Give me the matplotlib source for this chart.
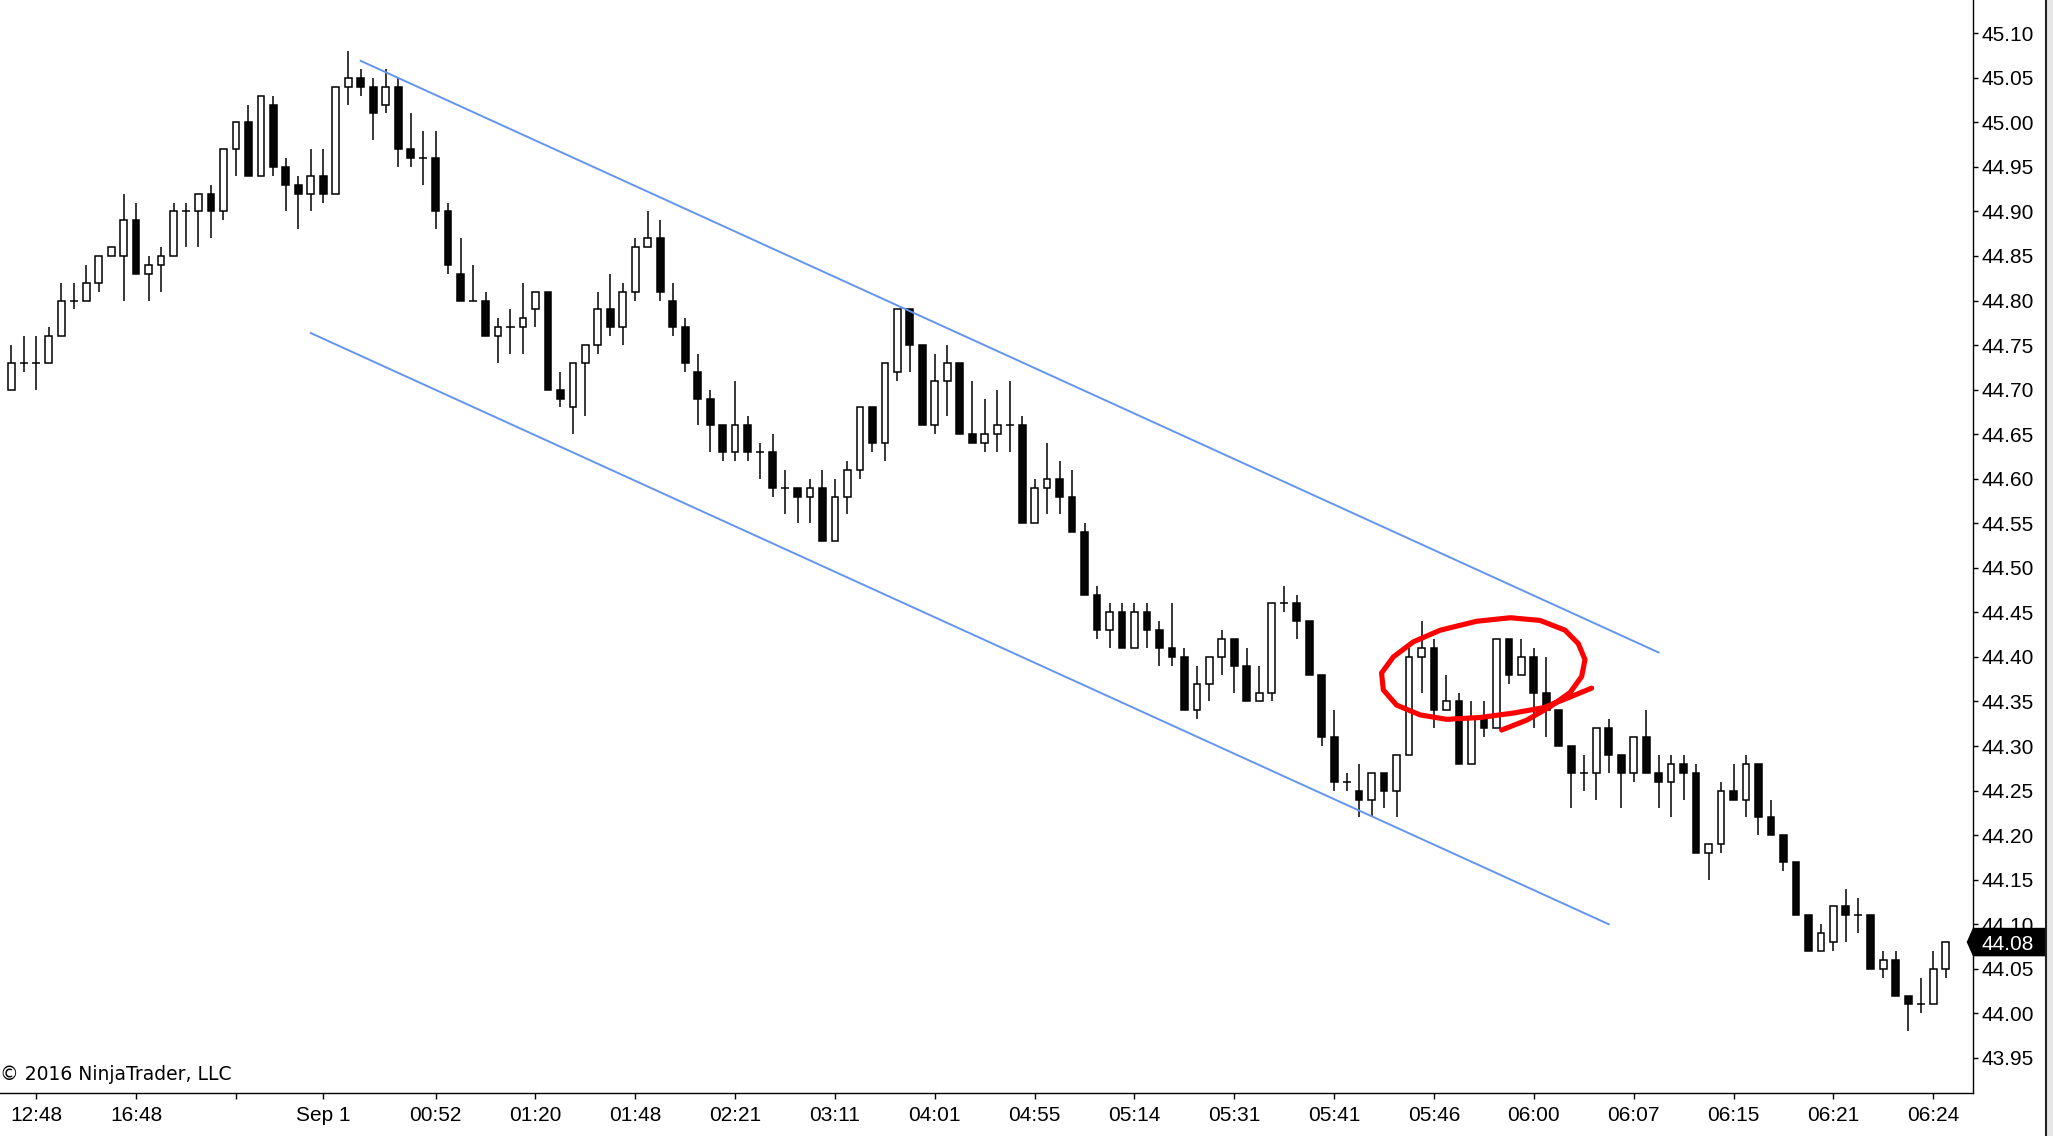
import matplotlib
matplotlib.use("Agg")
import matplotlib.pyplot as plt
import numpy as np
from matplotlib.patches import Polygon, Rectangle
from matplotlib.lines import Line2D
from matplotlib.transforms import blended_transform_factory

plt.rcParams['font.family'] = ['Liberation Sans', 'DejaVu Sans']

# OHLC, one bar per entry
opens = [44.70, 44.73, 44.73, 44.73, 44.76, 44.80, 44.80, 44.82, 44.85, 44.85,
         44.89, 44.83, 44.84, 44.85, 44.90, 44.90, 44.92, 44.90, 44.97, 45.00,
         44.94, 45.02, 44.95, 44.93, 44.92, 44.94, 44.92, 45.04, 45.05, 45.04,
         45.02, 45.04, 44.97, 44.96, 44.96, 44.90, 44.83, 44.80, 44.80, 44.76,
         44.77, 44.77, 44.79, 44.81, 44.70, 44.68, 44.73, 44.75, 44.79, 44.77,
         44.81, 44.86, 44.87, 44.80, 44.77, 44.72, 44.69, 44.66, 44.63, 44.66,
         44.63, 44.63, 44.59, 44.59, 44.58, 44.59, 44.53, 44.58, 44.61, 44.68,
         44.64, 44.72, 44.79, 44.75, 44.66, 44.71, 44.73, 44.65, 44.64, 44.65,
         44.66, 44.66, 44.55, 44.59, 44.60, 44.58, 44.54, 44.47, 44.43, 44.45,
         44.41, 44.45, 44.43, 44.41, 44.40, 44.34, 44.37, 44.40, 44.42, 44.39,
         44.35, 44.36, 44.46, 44.46, 44.44, 44.38, 44.31, 44.26, 44.25, 44.24,
         44.27, 44.25, 44.29, 44.40, 44.41, 44.34, 44.35, 44.28, 44.33, 44.32,
         44.42, 44.38, 44.40, 44.36, 44.34, 44.30, 44.27, 44.27, 44.32, 44.29,
         44.27, 44.31, 44.27, 44.26, 44.28, 44.27, 44.18, 44.19, 44.25, 44.24,
         44.28, 44.22, 44.20, 44.17, 44.11, 44.07, 44.08, 44.12, 44.11, 44.11,
         44.05, 44.06, 44.02, 44.01, 44.01, 44.05]
highs = [44.75, 44.76, 44.76, 44.77, 44.82, 44.82, 44.84, 44.85, 44.86, 44.92,
         44.91, 44.85, 44.86, 44.91, 44.91, 44.92, 44.93, 44.97, 45.00, 45.02,
         45.03, 45.03, 44.96, 44.94, 44.97, 44.97, 45.04, 45.08, 45.06, 45.05,
         45.06, 45.05, 45.01, 44.99, 44.99, 44.91, 44.87, 44.84, 44.81, 44.78,
         44.79, 44.82, 44.81, 44.81, 44.72, 44.73, 44.75, 44.81, 44.83, 44.82,
         44.87, 44.90, 44.89, 44.82, 44.78, 44.74, 44.70, 44.66, 44.71, 44.67,
         44.64, 44.65, 44.61, 44.59, 44.60, 44.61, 44.60, 44.62, 44.68, 44.68,
         44.73, 44.79, 44.79, 44.75, 44.74, 44.75, 44.73, 44.71, 44.69, 44.70,
         44.71, 44.67, 44.60, 44.64, 44.62, 44.61, 44.55, 44.48, 44.46, 44.46,
         44.46, 44.46, 44.44, 44.46, 44.41, 44.39, 44.40, 44.43, 44.42, 44.41,
         44.39, 44.46, 44.48, 44.47, 44.44, 44.38, 44.34, 44.27, 44.28, 44.27,
         44.27, 44.29, 44.41, 44.44, 44.42, 44.38, 44.36, 44.35, 44.35, 44.42,
         44.42, 44.42, 44.41, 44.40, 44.34, 44.30, 44.29, 44.32, 44.33, 44.29,
         44.31, 44.34, 44.29, 44.29, 44.29, 44.28, 44.19, 44.26, 44.28, 44.29,
         44.28, 44.24, 44.20, 44.17, 44.11, 44.10, 44.12, 44.14, 44.13, 44.11,
         44.07, 44.07, 44.02, 44.04, 44.07, 44.08]
lows = [44.70, 44.72, 44.70, 44.73, 44.76, 44.79, 44.80, 44.81, 44.85, 44.80,
        44.83, 44.80, 44.81, 44.85, 44.86, 44.86, 44.87, 44.89, 44.94, 44.94,
        44.94, 44.94, 44.90, 44.88, 44.90, 44.91, 44.92, 45.02, 45.03, 44.98,
        45.01, 44.95, 44.95, 44.93, 44.88, 44.83, 44.80, 44.80, 44.76, 44.73,
        44.74, 44.74, 44.77, 44.70, 44.68, 44.65, 44.67, 44.74, 44.76, 44.75,
        44.80, 44.86, 44.80, 44.76, 44.72, 44.66, 44.63, 44.62, 44.62, 44.62,
        44.60, 44.58, 44.56, 44.55, 44.55, 44.53, 44.53, 44.56, 44.60, 44.63,
        44.62, 44.71, 44.72, 44.66, 44.65, 44.67, 44.65, 44.64, 44.63, 44.63,
        44.63, 44.55, 44.55, 44.56, 44.56, 44.54, 44.47, 44.42, 44.41, 44.41,
        44.41, 44.41, 44.39, 44.39, 44.34, 44.33, 44.35, 44.38, 44.36, 44.35,
        44.35, 44.35, 44.45, 44.42, 44.38, 44.30, 44.25, 44.25, 44.22, 44.22,
        44.23, 44.22, 44.29, 44.36, 44.32, 44.34, 44.28, 44.28, 44.31, 44.32,
        44.37, 44.38, 44.32, 44.31, 44.30, 44.23, 44.25, 44.24, 44.27, 44.23,
        44.26, 44.27, 44.23, 44.22, 44.24, 44.18, 44.15, 44.18, 44.24, 44.22,
        44.20, 44.20, 44.16, 44.11, 44.07, 44.07, 44.07, 44.08, 44.09, 44.05,
        44.04, 44.02, 43.98, 44.00, 44.01, 44.04]
closes = [44.73, 44.73, 44.73, 44.76, 44.80, 44.80, 44.82, 44.85, 44.86, 44.89,
          44.83, 44.84, 44.85, 44.90, 44.90, 44.92, 44.90, 44.97, 45.00, 44.94,
          45.03, 44.95, 44.93, 44.92, 44.94, 44.92, 45.04, 45.05, 45.04, 45.01,
          45.04, 44.97, 44.96, 44.96, 44.90, 44.84, 44.80, 44.80, 44.76, 44.77,
          44.77, 44.78, 44.81, 44.70, 44.69, 44.73, 44.75, 44.79, 44.77, 44.81,
          44.86, 44.87, 44.81, 44.77, 44.73, 44.69, 44.66, 44.63, 44.66, 44.63,
          44.63, 44.59, 44.59, 44.58, 44.59, 44.53, 44.58, 44.61, 44.68, 44.64,
          44.73, 44.79, 44.75, 44.66, 44.71, 44.73, 44.65, 44.64, 44.65, 44.66,
          44.66, 44.55, 44.59, 44.60, 44.58, 44.54, 44.47, 44.43, 44.45, 44.41,
          44.45, 44.43, 44.41, 44.40, 44.34, 44.37, 44.40, 44.42, 44.39, 44.35,
          44.36, 44.46, 44.46, 44.44, 44.38, 44.31, 44.26, 44.26, 44.24, 44.27,
          44.25, 44.29, 44.40, 44.41, 44.34, 44.35, 44.28, 44.33, 44.32, 44.42,
          44.38, 44.40, 44.36, 44.34, 44.30, 44.27, 44.27, 44.32, 44.29, 44.27,
          44.31, 44.27, 44.26, 44.28, 44.27, 44.18, 44.19, 44.25, 44.24, 44.28,
          44.22, 44.20, 44.17, 44.11, 44.07, 44.09, 44.12, 44.11, 44.11, 44.05,
          44.06, 44.02, 44.01, 44.01, 44.05, 44.08]

tick_pos = [2, 10, 18, 25, 34, 42, 50, 58, 66, 74, 82, 90, 98, 106, 114, 122, 130, 138, 146, 154]
tick_labels = ["12:48", "16:48", "", "Sep 1", "00:52", "01:20", "01:48", "02:21", "03:11", "04:01",
               "04:55", "05:14", "05:31", "05:41", "05:46", "06:00", "06:07", "06:15", "06:21", "06:24"]
price_ticks = np.round(np.arange(43.95, 45.101, 0.05), 2)

# channel lines (bar index, price)
upper_x = [28, 132]
upper_y = [45.069, 44.405]
lower_x = [24, 128]
lower_y = [44.7635, 44.100]

# hand drawn red loop (bar index, price)
red_x = [119.42, 121.42, 123.29, 124.9, 125.83, 126.1, 125.56, 124.5, 122.5, 120.1,
         117.4, 114.5, 112.35, 110.74, 109.8, 109.94, 111.0, 112.88, 115.0, 117.68,
         120.35, 122.76, 124.9, 126.63]
red_y = [44.318, 44.329, 44.344, 44.360, 44.378, 44.397, 44.415, 44.430, 44.441, 44.444,
         44.440, 44.430, 44.417, 44.400, 44.382, 44.363, 44.346, 44.335, 44.330, 44.332,
         44.337, 44.343, 44.355, 44.365]

last_price = 44.08

W, H = 2053, 1136
fig = plt.figure(figsize=(W / 100, H / 100), dpi=100)
ax = fig.add_axes([0, 43 / H, 1973 / W, 1093 / H])

o = np.array(opens)
c = np.array(closes)
hi = np.array(highs)
lo = np.array(lows)
x = np.arange(len(o))

ax.vlines(x, lo, hi, color='black', linewidth=1.1, zorder=2)
up = c > o
down = c < o
flat = c == o
ax.bar(x[up], (c - o)[up], bottom=o[up], width=0.54, facecolor='white',
       edgecolor='black', linewidth=1.1, zorder=3)
ax.bar(x[down], (o - c)[down], bottom=c[down], width=0.54, facecolor='#050505',
       edgecolor='black', linewidth=1.1, zorder=3)
ax.hlines(c[flat], x[flat] - 0.33, x[flat] + 0.33, color='black', linewidth=1.1, zorder=3)

ax.plot(upper_x, upper_y, color='#6495ED', linewidth=1.4, zorder=4)
ax.plot(lower_x, lower_y, color='#6495ED', linewidth=1.4, zorder=4)
ax.plot(red_x, red_y, color='#ff0000', linewidth=3.7, solid_joinstyle='round',
        solid_capstyle='round', zorder=5)

ax.set_xlim(-0.905, 157.19)
ax.set_ylim(43.9106, 45.1373)

ax.spines['left'].set_visible(False)
ax.spines['top'].set_visible(False)
ax.spines['right'].set_linewidth(1.0)
ax.spines['bottom'].set_linewidth(1.0)

ax.yaxis.tick_right()
ax.set_yticks(price_ticks)
ax.set_yticklabels(['%.2f' % p for p in price_ticks])
ax.set_xticks(tick_pos)
ax.set_xticklabels(tick_labels)
ax.tick_params(axis='y', direction='out', length=3.8, width=1.0, pad=2.5, labelsize=15)
ax.tick_params(axis='x', direction='out', length=4.3, width=1.0, pad=5, labelsize=15)

fig.text(0.0, 1 - 1075 / H, '\u00a9 2016 NinjaTrader, LLC', fontsize=13.5,
         family=['DejaVu Sans'], ha='left', va='center')

# right panel edge
fig.add_artist(Rectangle((2047 / W, 0), 6 / W, 1, transform=fig.transFigure,
                         facecolor='#e6e6e6', edgecolor='none'))
fig.add_artist(Line2D([2046 / W, 2046 / W], [0, 1], transform=fig.transFigure,
                      color='#222222', linewidth=1.5))

# last price marker
tr = blended_transform_factory(fig.transFigure, ax.transData)
hh = 0.016
marker = Polygon([(1966.7 / W, last_price), (1973 / W, last_price + hh), (2045 / W, last_price + hh),
                  (2045 / W, last_price - hh), (1973 / W, last_price - hh)],
                 closed=True, transform=tr, facecolor='black', edgecolor='none', zorder=10)
fig.add_artist(marker)
fig.text(1981.7 / W, last_price, '%.2f' % last_price, transform=tr, color='white',
         fontsize=15, ha='left', va='center_baseline', zorder=11)

fig.savefig('out.png', dpi=100)
